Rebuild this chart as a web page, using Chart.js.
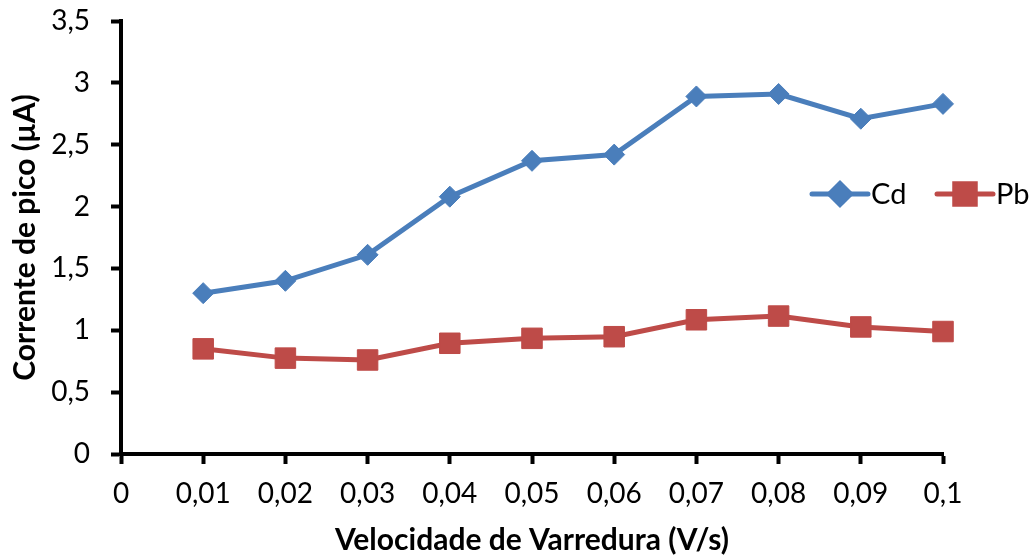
<!DOCTYPE html>
<html>
<head>
<meta charset="utf-8">
<script src="https://cdn.jsdelivr.net/npm/chart.js@4/dist/chart.umd.min.js"></script>
<style>
  html, body { margin: 0; padding: 0; background: #fff; }
  #wrap { width: 1034px; height: 558px; position: relative; }
</style>
</head>
<body>
<div id="wrap"><canvas id="c" width="1034" height="558"></canvas></div>
<script>
// ---- data ----
const xValues = [0.01, 0.02, 0.03, 0.04, 0.05, 0.06, 0.07, 0.08, 0.09, 0.10];
const cdValues = [1.30, 1.40, 1.61, 2.08, 2.37, 2.42, 2.89, 2.91, 2.71, 2.83];
const pbValues = [0.85, 0.775, 0.76, 0.895, 0.935, 0.948, 1.085, 1.115, 1.027, 0.99];
const xTickLabels = ['0', '0,01', '0,02', '0,03', '0,04', '0,05', '0,06', '0,07', '0,08', '0,09', '0,1'];
const yTickLabels = ['0', '0,5', '1', '1,5', '2', '2,5', '3', '3,5'];
const seriesNames = ['Cd', 'Pb'];
const xTitle = 'Velocidade de Varredura (V/s)';
const yTitle = 'Corrente de pico (µA)';

const CD_COLOR = '#4A7EBB';
const PB_COLOR = '#BE4B48';
const FONT = 'Lato, "Open Sans", sans-serif';

const toPts = (vals) => vals.map((v, i) => ({ x: xValues[i], y: v }));

const legendPlugin = {
  id: 'customLegend',
  afterDraw(chart) {
    const ctx = chart.ctx;
    const items = chart.data.datasets;
    const y = 194;
    const starts = [812, 937];
    ctx.save();
    items.forEach((ds, i) => {
      const x0 = starts[i];
      const lineLen = 56;
      ctx.strokeStyle = ds.borderColor;
      ctx.lineWidth = 5;
      ctx.lineCap = 'round';
      ctx.beginPath();
      ctx.moveTo(x0, y);
      ctx.lineTo(x0 + lineLen, y);
      ctx.stroke();
      Chart.helpers.drawPoint(ctx, {
        pointStyle: ds.pointStyle,
        radius: ds.pointRadius,
        rotation: 0,
        borderWidth: 1
      }, x0 + lineLen / 2, y);
      ctx.fillStyle = ds.backgroundColor;
      ctx.fill();
      ctx.fillStyle = '#000';
      ctx.font = '29px ' + FONT;
      ctx.textBaseline = 'middle';
      ctx.textAlign = 'left';
      ctx.fillText(ds.label, x0 + lineLen + 3, y + 1);
    });
    ctx.restore();
  }
};

new Chart(document.getElementById('c'), {
  type: 'line',
  data: {
    datasets: [
      {
        label: seriesNames[0],
        data: toPts(cdValues),
        borderColor: CD_COLOR,
        backgroundColor: CD_COLOR,
        borderWidth: 5,
        pointStyle: 'rectRot',
        pointRadius: 10.5,
        pointHoverRadius: 10.5,
        pointBorderWidth: 1,
        pointBorderColor: CD_COLOR,
        pointBackgroundColor: CD_COLOR,
        tension: 0,
        clip: false
      },
      {
        label: seriesNames[1],
        data: toPts(pbValues),
        borderColor: PB_COLOR,
        backgroundColor: PB_COLOR,
        borderWidth: 5,
        pointStyle: 'rect',
        pointRadius: 14.5,
        pointHoverRadius: 14.5,
        pointBorderWidth: 1,
        pointBorderColor: PB_COLOR,
        pointBackgroundColor: PB_COLOR,
        tension: 0,
        clip: false
      }
    ]
  },
  options: {
    responsive: false,
    animation: false,
    events: [],
    layout: { padding: { left: 0, right: 91, top: 21, bottom: 0 } },
    plugins: {
      legend: { display: false },
      tooltip: { enabled: false }
    },
    scales: {
      x: {
        type: 'linear',
        min: 0,
        max: 0.1,
        afterBuildTicks(scale) {
          scale.ticks = xTickLabels.map((_, i) => ({ value: i / 100 }));
        },
        afterFit(scale) {
          scale.height = 104;
          scale.paddingLeft = 0;
          scale.paddingRight = 0;
        },
        border: { display: true, color: '#000', width: 4 },
        grid: {
          display: true,
          drawOnChartArea: false,
          drawTicks: true,
          tickLength: 10,
          tickWidth: 4,
          tickColor: '#000'
        },
        ticks: {
          autoSkip: false,
          maxRotation: 0,
          padding: 13,
          color: '#000',
          font: { family: FONT, size: 28 },
          callback: (v, i) => xTickLabels[i]
        },
        title: {
          display: true,
          text: xTitle,
          color: '#000',
          font: { family: FONT, size: 30, weight: 'bold' },
          padding: { top: 0, bottom: 0 }
        }
      },
      y: {
        type: 'linear',
        min: 0,
        max: 3.5,
        afterBuildTicks(scale) {
          scale.ticks = yTickLabels.map((_, i) => ({ value: i * 0.5 }));
        },
        afterFit(scale) {
          scale.width = 121;
          scale.paddingTop = 0;
          scale.paddingBottom = 0;
        },
        border: { display: true, color: '#000', width: 4 },
        grid: {
          display: true,
          drawOnChartArea: false,
          drawTicks: true,
          tickLength: 10,
          tickWidth: 4,
          tickColor: '#000'
        },
        ticks: {
          padding: 21,
          color: '#000',
          font: { family: FONT, size: 28 },
          callback: (v, i) => yTickLabels[i]
        },
        title: {
          display: true,
          text: yTitle,
          color: '#000',
          font: { family: FONT, size: 30, weight: 'bold' },
          padding: { top: 7, bottom: 0 }
        }
      }
    }
  },
  plugins: [legendPlugin]
});
</script>
</body>
</html>
